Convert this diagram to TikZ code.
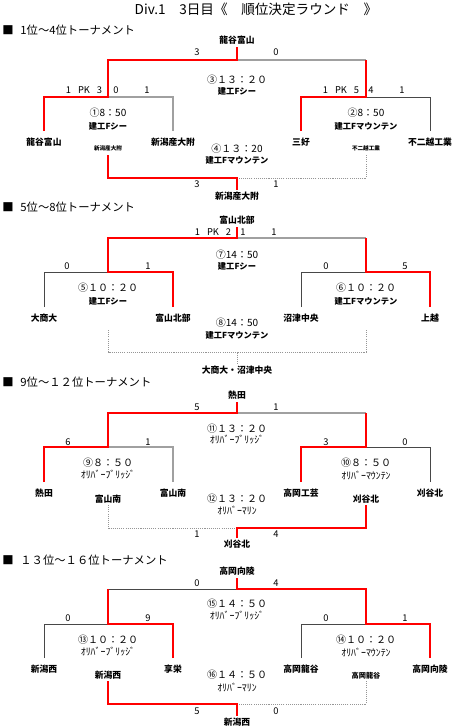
\documentclass[tikz,border=0pt]{standalone}
\usepackage{xcolor}
\usepackage{fontspec}
\setmainfont{Noto Sans CJK JP}
\usepackage{tikz}
\usetikzlibrary{positioning}

\tikzset{
  win/.style={draw={rgb,255:red,255;green,0;blue,0}, line width=1.5pt},
  lose/.style={draw={rgb,255:red,72;green,72;blue,72}, line width=0.75pt},
  loselt/.style={draw={rgb,255:red,160;green,160;blue,160}, line width=1.3pt},
  undecided/.style={draw={rgb,255:red,150;green,150;blue,150}, line width=0.7pt, dash pattern=on 0.8pt off 0.8pt},
  team/.style={font=\fontsize{6.6}{7}\selectfont\bfseries, inner sep=1pt},
  minor/.style={font=\fontsize{4.2}{5}\selectfont\bfseries, inner sep=1pt},
  smallteam/.style={font=\fontsize{5.4}{6}\selectfont\bfseries, inner sep=1pt},
  score/.style={font=\fontsize{7}{8}\selectfont, inner sep=0pt},
  clock/.style={font=\fontsize{7.5}{8}\selectfont, inner sep=0pt},
  venue/.style={font=\fontsize{6.2}{7}\selectfont\bfseries, inner sep=0pt},
  hvenue/.style={font=\fontsize{7.4}{8}\selectfont, inner sep=0pt},
  sechead/.style={font=\fontsize{8.5}{9}\selectfont, anchor=west, inner sep=0pt},
}

\begin{document}
\begin{tikzpicture}[x=0.75pt, y=-0.75pt]
    \useasboundingbox (0,0) rectangle (451,728);
    \node[font=\fontsize{10.2}{12}\selectfont, inner sep=0pt] (title) at (256,9) {Div.1　3日目《　順位決定ラウンド　》};

    % 1st - 4th
    \node[sechead] (head1) at (2,30) {■\hspace{.6em}1位～4位トーナメント};
    \coordinate (aW) at (237,47);
    \coordinate (aT) at (237,60);
    \coordinate (aLj) at (108,97);
    \coordinate (aRj) at (366,97);
    \coordinate (a1) at (44,131);
    \coordinate (a2) at (173,131);
    \coordinate (a3) at (301,131);
    \coordinate (a4) at (430,131);
    \coordinate (aB1) at (108,155);
    \coordinate (aB2) at (366,155);
    \coordinate (aBc) at (237,178);
    \coordinate (aBw) at (237,190);
    \draw[loselt] (a2) |- (aLj);
    \draw[lose] (a4) |- (aRj);
    \draw[loselt] (aRj |- aT) -- (aT);
    \draw[win] (a1) |- (aLj) |- (aT) -- (aW);
    \draw[win] (a3) |- (aRj) -- (aRj |- aT);
    \draw[undecided] (aB2) |- (aBc);
    \draw[win] (aB1) |- (aBc) -- (aBw);
    \node[team, above=1pt] (aChamp) at (aW) {龍谷富山};
    \node[team, below=4pt] (aN1) at (a1) {龍谷富山};
    \node[team, below=4pt] (aN2) at (a2) {新潟産大附};
    \node[team, below=4pt] (aN3) at (a3) {三好};
    \node[team, below=4pt] (aN4) at (a4) {不二越工業};
    \node[minor, above=2pt] (aS1) at (aB1) {新潟産大附};
    \node[minor, above=2pt] (aS2) at (aB2) {不二越工業};
    \node[team, below=0pt] (aThird) at (aBw) {新潟産大附};
    \node[score] (aP1) at (197,52) {3};
    \node[score] (aP2) at (276,52) {0};
    \node[score] (aP3) at (84,90) {1\hspace{.75em}PK\hspace{.75em}3};
    \node[score] (aP4) at (116,90) {0};
    \node[score] (aP5) at (147,90) {1};
    \node[score] (aP6) at (341,90) {1\hspace{.75em}PK\hspace{.75em}5};
    \node[score] (aP7) at (371,90) {4};
    \node[score] (aP8) at (402,90) {1};
    \node[score] (aP9) at (197,184) {3};
    \node[score] (aP10) at (276,184) {1};
    \node[clock] (aM3) at (237,80) {③１３：２０};
    \node[venue] (aV3) at (237,91) {建工Fシー};
    \node[clock] (aM1) at (108,113) {①8：50};
    \node[venue] (aV1) at (108,126) {建工Fシー};
    \node[clock] (aM2) at (366,113) {②8：50};
    \node[venue] (aV2) at (366,126) {建工Fマウンテン};
    \node[clock] (aM4) at (237,149) {④１３：20};
    \node[venue] (aV4) at (237,160) {建工Fマウンテン};

    % 5th - 8th
    \node[sechead] (head2) at (2,207) {■\hspace{.6em}5位～8位トーナメント};
    \coordinate (bW) at (237,227);
    \coordinate (bT) at (237,238);
    \coordinate (bLj) at (108,272);
    \coordinate (bRj) at (366,272);
    \coordinate (b1) at (44,307);
    \coordinate (b2) at (173,307);
    \coordinate (b3) at (301,307);
    \coordinate (b4) at (430,307);
    \coordinate (bB1) at (108,330);
    \coordinate (bB2) at (366,330);
    \coordinate (bBc) at (237,352);
    \coordinate (bBw) at (237,364);
    \draw[lose] (b1) |- (bLj);
    \draw[lose] (b3) |- (bRj);
    \draw[loselt] (bRj |- bT) -- (bT);
    \draw[win] (b2) |- (bLj) |- (bT) -- (bW);
    \draw[win] (b4) |- (bRj) -- (bRj |- bT);
    \draw[undecided] (bB1) |- (bBc) -- (bBw);
    \draw[undecided] (bB2) |- (bBc);
    \node[team, above=1pt] (bChamp) at (bW) {富山北部};
    \node[team, below=4pt] (bN1) at (b1) {大商大};
    \node[team, below=4pt] (bN2) at (b2) {富山北部};
    \node[team, below=4pt] (bN3) at (b3) {沼津中央};
    \node[team, below=4pt] (bN4) at (b4) {上越};
    \node[team, below=0pt] (bThird) at (bBw) {大商大・沼津中央};
    \node[score] (bP1) at (213,232) {1\hspace{.75em}PK\hspace{.75em}2};
    \node[score] (bP2) at (243,232) {1};
    \node[score] (bP3) at (274,232) {1};
    \node[score] (bP4) at (67,266) {0};
    \node[score] (bP5) at (148,266) {1};
    \node[score] (bP6) at (326,266) {0};
    \node[score] (bP7) at (405,266) {5};
    \node[clock] (bM7) at (237,255) {⑦14：50};
    \node[venue] (bV7) at (237,266) {建工Fシー};
    \node[clock] (bM5) at (108,288) {⑤１０：２０};
    \node[venue] (bV5) at (108,301) {建工Fシー};
    \node[clock] (bM6) at (366,288) {⑥１０：２０};
    \node[venue] (bV6) at (366,301) {建工Fマウンテン};
    \node[clock] (bM8) at (237,323) {⑧14：50};
    \node[venue] (bV8) at (237,335) {建工Fマウンテン};

    % 9th - 12th
    \node[sechead] (head3) at (2,382) {■\hspace{.6em}9位～１２位トーナメント};
    \coordinate (cW) at (237,402);
    \coordinate (cT) at (237,413);
    \coordinate (cLj) at (108,447);
    \coordinate (cRj) at (366,447);
    \coordinate (c1) at (44,482);
    \coordinate (c2) at (173,482);
    \coordinate (c3) at (301,482);
    \coordinate (c4) at (430,482);
    \coordinate (cB1) at (108,505);
    \coordinate (cB2) at (366,505);
    \coordinate (cBc) at (237,528);
    \coordinate (cBw) at (237,538);
    \draw[loselt] (c2) |- (cLj);
    \draw[lose] (c4) |- (cRj);
    \draw[loselt] (cRj |- cT) -- (cT);
    \draw[win] (c1) |- (cLj) |- (cT) -- (cW);
    \draw[win] (c3) |- (cRj) -- (cRj |- cT);
    \draw[undecided] (cB1) |- (cBc);
    \draw[win] (cB2) |- (cBc) -- (cBw);
    \node[team, above=1pt] (cChamp) at (cW) {熱田};
    \node[team, below=4pt] (cN1) at (c1) {熱田};
    \node[team, below=4pt] (cN2) at (c2) {富山南};
    \node[team, below=4pt] (cN3) at (c3) {高岡工芸};
    \node[team, below=4pt] (cN4) at (c4) {刈谷北};
    \node[team, above=0pt] (cS1) at (cB1) {富山南};
    \node[team, above=0pt] (cS2) at (cB2) {刈谷北};
    \node[team, below=0pt] (cThird) at (cBw) {刈谷北};
    \node[score] (cP1) at (197,407) {5};
    \node[score] (cP2) at (276,407) {1};
    \node[score] (cP3) at (68,442) {6};
    \node[score] (cP4) at (148,442) {1};
    \node[score] (cP5) at (326,442) {3};
    \node[score] (cP6) at (405,442) {0};
    \node[score] (cP7) at (197,534) {1};
    \node[score] (cP8) at (276,534) {4};
    \node[clock] (cM11) at (237,429) {⑪１３：２０};
    \node[hvenue] (cV11) at (237,440) {ｵﾘﾊﾞｰﾌﾞﾘｯｼﾞ};
    \node[clock] (cM9) at (108,463) {⑨８：５０};
    \node[hvenue] (cV9) at (108,475) {ｵﾘﾊﾞｰﾌﾞﾘｯｼﾞ};
    \node[clock] (cM10) at (366,463) {⑩８：５０};
    \node[hvenue] (cV10) at (366,475) {ｵﾘﾊﾞｰﾏｳﾝﾃﾝ};
    \node[clock] (cM12) at (237,499) {⑫１３：２０};
    \node[hvenue] (cV12) at (237,510) {ｵﾘﾊﾞｰﾏﾘﾝ};

    % 13th - 16th
    \node[sechead] (head4) at (2,560) {■\hspace{.6em}１３位～１６位トーナメント};
    \coordinate (dW) at (237,578);
    \coordinate (dT) at (237,589);
    \coordinate (dLj) at (108,624);
    \coordinate (dRj) at (366,624);
    \coordinate (d1) at (44,658);
    \coordinate (d2) at (173,658);
    \coordinate (d3) at (301,658);
    \coordinate (d4) at (430,658);
    \coordinate (dB1) at (108,681);
    \coordinate (dB2) at (366,681);
    \coordinate (dBc) at (237,704);
    \coordinate (dBw) at (237,716);
    \draw[lose] (d1) |- (dLj);
    \draw[lose] (d3) |- (dRj);
    \draw[lose] (dLj |- dT) -- (dT);
    \draw[win] (d2) |- (dLj) -- (dLj |- dT);
    \draw[win] (d4) |- (dRj) |- (dT) -- (dW);
    \draw[undecided] (dB2) |- (dBc);
    \draw[win] (dB1) |- (dBc) -- (dBw);
    \node[team, above=1pt] (dChamp) at (dW) {高岡向陵};
    \node[team, below=4pt] (dN1) at (d1) {新潟西};
    \node[team, below=4pt] (dN2) at (d2) {享栄};
    \node[team, below=4pt] (dN3) at (d3) {高岡龍谷};
    \node[team, below=4pt] (dN4) at (d4) {高岡向陵};
    \node[team, above=0pt] (dS1) at (dB1) {新潟西};
    \node[smallteam, above=0pt] (dS2) at (dB2) {高岡龍谷};
    \node[team, below=0pt] (dThird) at (dBw) {新潟西};
    \node[score] (dP1) at (197,583) {0};
    \node[score] (dP2) at (276,583) {4};
    \node[score] (dP3) at (68,618) {0};
    \node[score] (dP4) at (148,618) {9};
    \node[score] (dP5) at (326,618) {0};
    \node[score] (dP6) at (405,618) {1};
    \node[score] (dP7) at (197,711) {5};
    \node[score] (dP8) at (276,711) {0};
    \node[clock] (dM15) at (237,604) {⑮１４：５０};
    \node[hvenue] (dV15) at (237,616) {ｵﾘﾊﾞｰﾌﾞﾘｯｼﾞ};
    \node[clock] (dM13) at (108,640) {⑬１０：２０};
    \node[hvenue] (dV13) at (108,652) {ｵﾘﾊﾞｰﾌﾞﾘｯｼﾞ};
    \node[clock] (dM14) at (366,640) {⑭１０：２０};
    \node[hvenue] (dV14) at (366,652) {ｵﾘﾊﾞｰﾏｳﾝﾃﾝ};
    \node[clock] (dM16) at (237,675) {⑯１４：５０};
    \node[hvenue] (dV16) at (237,687) {ｵﾘﾊﾞｰﾏﾘﾝ};
\end{tikzpicture}
\end{document}
